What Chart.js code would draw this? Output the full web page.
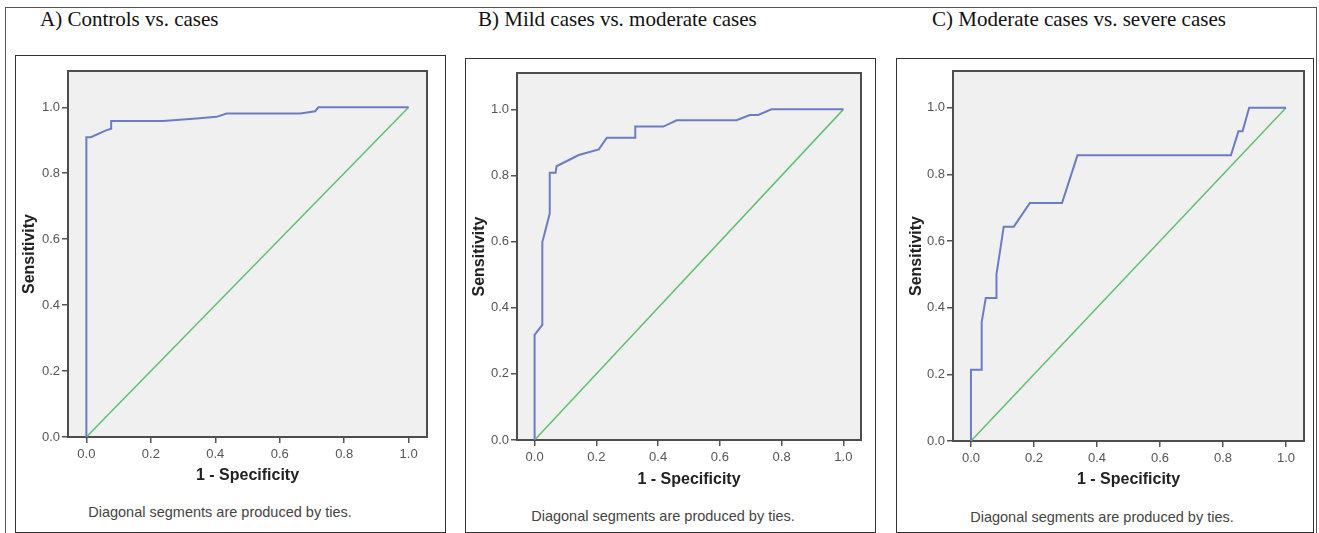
<!DOCTYPE html>
<html>
<head>
<meta charset="utf-8">
<script src="https://cdn.jsdelivr.net/npm/chart.js@4"></script>
<style>
  body { margin: 0; background: #fff; width: 1319px; height: 533px; overflow: hidden; position: relative; }
  .outer { position: absolute; left: 5px; top: 7px; width: 1310px; height: 600px; border: 1px solid #555; }
  .frame { position: absolute; border: 1px solid #333; box-sizing: border-box; }
  .ptitle { position: absolute; top: 9px; font: 21px "Liberation Serif", "Times New Roman", serif; line-height: 1; color: #111; white-space: nowrap; }
  .foot { position: absolute; font: 14.5px "Liberation Sans", Arial, sans-serif; color: #444; white-space: nowrap; transform: translate(-50%, -50%); }
  canvas { position: absolute; }
</style>
</head>
<body>
<div class="outer"></div>
<script>
// chart data
const panelTitles = ["A) Controls vs. cases", "B) Mild cases vs. moderate cases", "C) Moderate cases vs. severe cases"];

const rocAX = [0, 0, 0.014, 0.061, 0.077, 0.077, 0.238, 0.342, 0.404, 0.435, 0.664, 0.71, 0.72, 1];
const rocAY = [0, 0.909, 0.909, 0.93, 0.935, 0.958, 0.958, 0.966, 0.971, 0.981, 0.981, 0.988, 1, 1];

const rocBX = [0, 0, 0.025, 0.025, 0.049, 0.049, 0.068, 0.071, 0.143, 0.208, 0.234, 0.326, 0.326, 0.417, 0.46, 0.654, 0.697, 0.724, 0.767, 1];
const rocBY = [0, 0.318, 0.348, 0.598, 0.685, 0.808, 0.808, 0.828, 0.862, 0.879, 0.914, 0.914, 0.948, 0.948, 0.967, 0.967, 0.983, 0.983, 1, 1];

const rocCX = [0, 0, 0.034, 0.034, 0.047, 0.081, 0.081, 0.104, 0.136, 0.187, 0.289, 0.338, 0.825, 0.849, 0.862, 0.883, 1];
const rocCY = [0, 0.214, 0.214, 0.357, 0.429, 0.429, 0.5, 0.643, 0.643, 0.714, 0.714, 0.857, 0.857, 0.929, 0.929, 1, 1];

const refLineX = [0, 1];
const refLineY = [0, 1];

const xTickValues = [0, 0.2, 0.4, 0.6, 0.8, 1.0];
const yTickValues = [0, 0.2, 0.4, 0.6, 0.8, 1.0];

const xAxisLabel = "1 - Specificity";
const yAxisLabel = "Sensitivity";
const footnote = "Diagonal segments are produced by ties.";

// layout of the three panels (page pixels)
const panels = [
    { x: rocAX, y: rocAY, frame: [15, 55, 445, 532], plot: [68, 71, 427, 437], xTitleY: 476, yTitleX: 30, footX: 220, footY: 512, titleX: 40 },
    { x: rocBX, y: rocBY, frame: [465, 58, 875, 532], plot: [517, 73, 861, 440], xTitleY: 480, yTitleX: 480, footX: 663, footY: 516, titleX: 478 },
    { x: rocCX, y: rocCY, frame: [896, 58, 1313, 532], plot: [953, 71, 1304, 441], xTitleY: 480, yTitleX: 917, footX: 1102, footY: 517, titleX: 932 },
];

function toPoints(xs, ys) {
    return xs.map(function (v, i) { return { x: v, y: ys[i] }; });
}

const plotFrame = {
    id: "plotFrame",
    beforeDraw: function (chart) {
        const a = chart.chartArea, ctx = chart.ctx;
        ctx.save();
        ctx.fillStyle = "#f0f0f0";
        ctx.fillRect(a.left, a.top, a.right - a.left, a.bottom - a.top);
        ctx.restore();
    },
    beforeDatasetsDraw: function (chart) {
        const a = chart.chartArea, ctx = chart.ctx;
        ctx.save();
        ctx.strokeStyle = "#4d4d4d";
        ctx.lineWidth = 2;
        ctx.strokeRect(a.left, a.top, a.right - a.left, a.bottom - a.top);
        ctx.restore();
    }
};

Chart.defaults.font.family = '"Liberation Sans", Arial, sans-serif';

const titleLH = 16 * 1.2;

panels.forEach(function (p, i) {
    const fr = document.createElement("div");
    fr.className = "frame";
    fr.style.left = p.frame[0] + "px";
    fr.style.top = p.frame[1] + "px";
    fr.style.width = (p.frame[2] - p.frame[0] + 1) + "px";
    fr.style.height = (p.frame[3] - p.frame[1] + 1) + "px";
    document.body.appendChild(fr);

    const t = document.createElement("div");
    t.className = "ptitle";
    t.style.left = p.titleX + "px";
    t.textContent = panelTitles[i];
    document.body.appendChild(t);

    const f = document.createElement("div");
    f.className = "foot";
    f.style.left = p.footX + "px";
    f.style.top = p.footY + "px";
    f.textContent = footnote;
    document.body.appendChild(f);

    const cl = p.frame[0] + 1, ct = p.frame[1] + 1;
    const W = p.frame[2] - p.frame[0] - 1, H = p.frame[3] - p.frame[1] - 1;
    const cv = document.createElement("canvas");
    cv.width = W; cv.height = H;
    cv.style.left = cl + "px"; cv.style.top = ct + "px";
    cv.style.width = W + "px"; cv.style.height = H + "px";
    document.body.appendChild(cv);

    const yW = p.plot[0] - cl;
    const xH = p.xTitleY - p.plot[3] + titleLH / 2;

    new Chart(cv.getContext("2d"), {
        type: "line",
        data: {
            datasets: [
                {
                    data: toPoints(p.x, p.y),
                    borderColor: "#6c7cc2",
                    borderWidth: 2,
                    pointRadius: 0,
                    tension: 0,
                    order: 1,
                },
                {
                    data: toPoints(refLineX, refLineY),
                    borderColor: "#62c070",
                    borderWidth: 1.5,
                    pointRadius: 0,
                    tension: 0,
                    order: 2,
                },
            ],
        },
        options: {
            responsive: false,
            animation: false,
            events: [],
            layout: {
                padding: {
                    left: 0,
                    top: p.plot[1] - ct,
                    right: cl + W - p.plot[2],
                    bottom: ct + H - p.plot[3] - xH,
                },
            },
            plugins: { legend: { display: false }, tooltip: { enabled: false } },
            scales: {
                x: {
                    type: "linear",
                    min: -0.057,
                    max: 1.057,
                    afterBuildTicks: function (s) { s.ticks = xTickValues.map(function (v) { return { value: v }; }); },
                    afterFit: function (s) { s.height = xH; },
                    border: { display: false },
                    grid: { drawOnChartArea: false, tickLength: 6, color: "#555", lineWidth: 1.5 },
                    ticks: {
                        autoSkip: false, maxRotation: 0, padding: 4, color: "#555",
                        font: { size: 13 },
                        callback: function (v) { return Number(v).toFixed(1); },
                    },
                    title: { display: true, text: xAxisLabel, color: "#222", padding: 0, font: { size: 16, weight: "bold" } },
                },
                y: {
                    min: 0,
                    max: 1.11,
                    afterBuildTicks: function (s) { s.ticks = yTickValues.map(function (v) { return { value: v }; }); },
                    afterFit: function (s) { s.width = yW; },
                    border: { display: false },
                    grid: { drawOnChartArea: false, tickLength: 6, color: "#555", lineWidth: 1.5 },
                    ticks: {
                        padding: 2, color: "#555",
                        font: { size: 13 },
                        callback: function (v) { return Number(v).toFixed(1); },
                    },
                    title: { display: true, text: yAxisLabel, color: "#222", padding: { top: p.yTitleX - cl - titleLH / 2, bottom: 0 }, font: { size: 16, weight: "bold" } },
                },
            },
        },
        plugins: [plotFrame],
    });
});
</script>
</body>
</html>
